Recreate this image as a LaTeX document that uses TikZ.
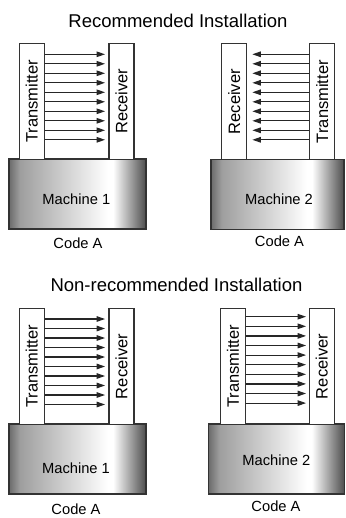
\documentclass[tikz,border=0pt]{standalone}
\usepackage{fontspec}
\setmainfont{Liberation Sans}
\usetikzlibrary{arrows.meta}
\definecolor{edge}{gray}{0.2}
\definecolor{mA}{gray}{0.42}
\definecolor{mB}{gray}{0.62}
\definecolor{mC}{gray}{0.30}
\pgfdeclarehorizontalshading{machshade}{100bp}{color(0bp)=(mA); color(25bp)=(mA); color(29bp)=(mB); color(61bp)=(white); color(63bp)=(white); color(75bp)=(mC); color(100bp)=(mC)}
\tikzset{
  unitbox/.style={draw=edge, line width=1.2pt, fill=white, minimum width=25pt, minimum height=116pt, inner sep=0pt, font=\fontsize{16.5}{18}\selectfont},
  machbox/.style={draw=edge, line width=1.5pt, shading=machshade, minimum height=70pt, inner sep=0pt},
  lbl/.style={font=\fontsize{14.7}{16}\selectfont, anchor=base, inner sep=0pt},
  ttl/.style={font=\fontsize{18.5}{20}\selectfont, anchor=base, inner sep=0pt},
  beam/.style={line width=1.2pt, draw=black!85, -{Triangle[length=8.5pt,width=5.5pt]}}
}
\begin{document}
\begin{tikzpicture}[x=1pt,y=-1pt]
\useasboundingbox (0,0) rectangle (345,518);
% ---------- top panel ----------
\node[ttl] (title1) at (178,27.7) {Recommended Installation};
\node[machbox, minimum width=137pt] (m1) at (77.5,194) {};
\node[machbox, minimum width=133pt] (m2) at (277.5,194.5) {};
\node[unitbox] (t1) at (31.8,101.2) {\rotatebox{90}{Transmitter}};
\node[unitbox] (r1) at (121.5,101.2) {\rotatebox{90}{Receiver}};
\node[unitbox] (r2) at (234.2,101.7) {\rotatebox{90}{Receiver}};
\node[unitbox] (t2) at (322.2,101.7) {\rotatebox{90}{Transmitter}};
\node[lbl] (m1t) at (76.3,204.5) {Machine 1};
\node[lbl] (m2t) at (279,205) {Machine 2};
\node[lbl] (c1) at (78,248.5) {Code A};
\node[lbl] (c2) at (279.5,246.5) {Code A};
\foreach \y in {54.3,63.8,73.3,82.8,92.3,101.8,111.3,120.8,130.3,139.8}{
  \draw[beam, shorten >=3.3pt] (t1.east |- 0,\y) -- (r1.west |- 0,\y);
  \draw[beam, shorten >=5pt] (t2.west |- 0,\y) -- (r2.east |- 0,\y);
}
% ---------- bottom panel ----------
\node[ttl] (title2) at (176.5,291.5) {Non-recommended Installation};
\node[machbox, minimum width=137pt] (m3) at (77.5,459) {};
\node[machbox, minimum width=136pt] (m4) at (276.5,459) {};
\node[unitbox] (t3) at (31.8,366.5) {\rotatebox{90}{Transmitter}};
\node[unitbox] (r3) at (121.5,366.5) {\rotatebox{90}{Receiver}};
\node[unitbox] (t4) at (232.9,366.5) {\rotatebox{90}{Transmitter}};
\node[unitbox] (r4) at (321.8,366.5) {\rotatebox{90}{Receiver}};
\node[lbl] (m3t) at (76,473) {Machine 1};
\node[lbl] (m4t) at (276.3,465) {Machine 2};
\node[lbl] (c3) at (76,514.5) {Code A};
\node[lbl] (c4) at (276,511) {Code A};
\foreach \y in {319,328.5,338,347.5,357,366.5,376,385.5,395,404.5}{
  \draw[beam, shorten >=3.3pt] (t3.east |- 0,\y) -- (r3.west |- 0,\y);
}
\foreach \y in {316.7,326.3,335.9,345.5,355.1,364.7,374.3,383.9,393.5,403.1}{
  \draw[beam, shorten >=2.6pt] (t4.east |- 0,\y) -- (r4.west |- 0,\y);
}
\end{tikzpicture}
\end{document}
